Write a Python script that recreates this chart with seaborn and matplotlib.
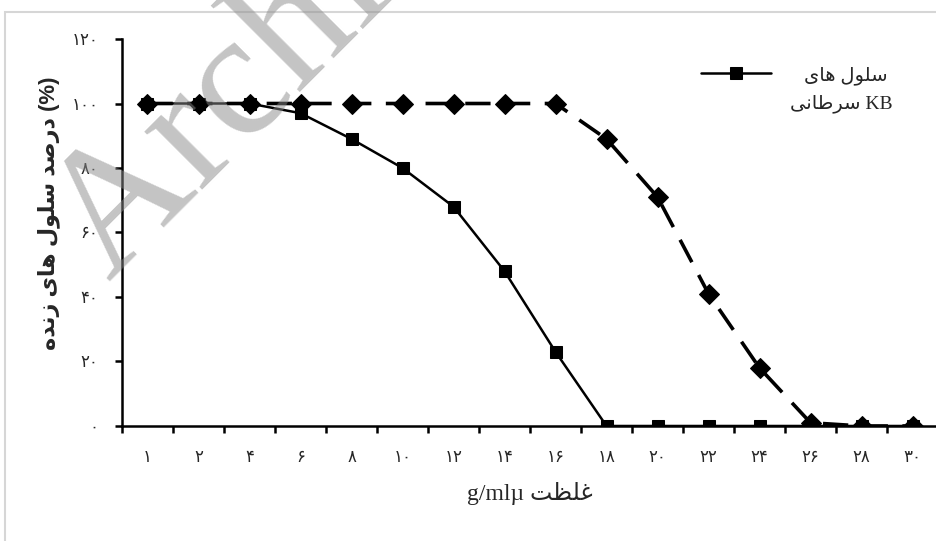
# نمودار درصد سلول های زنده در برابر غلظت
import numpy as np
import pandas as pd
import seaborn as sns
import matplotlib.pyplot as plt
from matplotlib.patches import Rectangle

# داده ها
concentration = [1, 2, 4, 6, 8, 10, 12, 14, 16, 18, 20, 22, 24, 26, 28, 30]
kb_cells = [100, 100, 100, 97, 89, 80, 68, 48, 23, 0, 0, 0, 0, 0, 0, 0]
other_cells = [100, 100, 100, 100, 100, 100, 100, 100, 100, 89, 71, 41, 18, 1, 0, 0]
y_ticks = [0, 20, 40, 60, 80, 100, 120]

legend_line1 = "سلول های"
legend_line2 = "سرطانی"
x_title = "غلظت"
y_title = "درصد سلول های زنده"

# matplotlib does no arabic shaping, so map letters to presentation forms by hand
FORMS = {  # isolated, final, initial, medial
    'ا': ('\uFE8D', '\uFE8E', None, None),
    'د': ('\uFEA9', '\uFEAA', None, None),
    'ر': ('\uFEAD', '\uFEAE', None, None),
    'ز': ('\uFEAF', '\uFEB0', None, None),
    'و': ('\uFEED', '\uFEEE', None, None),
    'ت': ('\uFE95', '\uFE96', '\uFE97', '\uFE98'),
    'س': ('\uFEB1', '\uFEB2', '\uFEB3', '\uFEB4'),
    'ص': ('\uFEB9', '\uFEBA', '\uFEBB', '\uFEBC'),
    'ط': ('\uFEC1', '\uFEC2', '\uFEC3', '\uFEC4'),
    'ظ': ('\uFEC5', '\uFEC6', '\uFEC7', '\uFEC8'),
    'غ': ('\uFECD', '\uFECE', '\uFECF', '\uFED0'),
    'ل': ('\uFEDD', '\uFEDE', '\uFEDF', '\uFEE0'),
    'ن': ('\uFEE5', '\uFEE6', '\uFEE7', '\uFEE8'),
    'ه': ('\uFEE9', '\uFEEA', '\uFEEB', '\uFEEC'),
    'ی': ('\uFEEF', '\uFEF0', '\uFEF3', '\uFEF4'),
}


def rtl(text):
    out = []
    for i, ch in enumerate(text):
        if ch not in FORMS:
            out.append(ch)
            continue
        iso, fin, ini, med = FORMS[ch]
        prev = text[i - 1] if i > 0 else ''
        nxt = text[i + 1] if i + 1 < len(text) else ''
        join_prev = prev in FORMS and FORMS[prev][2] is not None
        join_next = ini is not None and nxt in FORMS
        if join_prev and join_next:
            out.append(med)
        elif join_prev:
            out.append(fin)
        elif join_next:
            out.append(ini)
        else:
            out.append(iso)
    return ''.join(out)[::-1]


fa_digits = str.maketrans('0123456789', '۰۱۲۳۴۵۶۷۸۹')

df = pd.DataFrame({
    "pos": np.arange(len(concentration)),
    "kb": kb_cells,
    "other": other_cells,
})

sns.set_style("white")
plt.rcParams['font.family'] = ['Liberation Serif', 'DejaVu Sans']

fig = plt.figure(figsize=(9.37, 5.41), dpi=100)
ax = fig.add_axes([0.1302, 0.2126, 0.8709, 0.7153])

sns.lineplot(data=df, x="pos", y="kb", color="black", linewidth=1.8,
             marker="s", markersize=8.5, markeredgecolor="black",
             label=rtl(legend_line1), ax=ax)
sns.lineplot(data=df, x="pos", y="other", color="black", linewidth=2.6,
             linestyle=(0, (7, 4)), marker="D", markersize=10,
             markeredgecolor="black", label="_nolegend_", ax=ax)

ax.set_xlim(-0.5, len(concentration) - 0.5)
ax.set_ylim(0, 120)

# ticks on category edges, labels in the middle
ax.set_xticks(np.arange(len(concentration) + 1) - 0.5)
ax.set_xticklabels([])
ax.set_xticks(df["pos"], minor=True)
ax.set_xticklabels([str(c).translate(fa_digits) for c in concentration], minor=True,
                   fontsize=12)
ax.tick_params(axis="x", which="major", direction="out", length=5, width=1.8,
               color="black", bottom=True)
ax.tick_params(axis="x", which="minor", length=0, pad=17)

ax.set_yticks(y_ticks)
ax.set_yticklabels([str(v).translate(fa_digits) for v in y_ticks], fontsize=12)
ax.tick_params(axis="y", direction="out", length=5, width=1.8, color="black",
               left=True, pad=12)

for side in ["top", "right"]:
    ax.spines[side].set_visible(False)
for side in ["left", "bottom"]:
    ax.spines[side].set_linewidth(1.8)
    ax.spines[side].set_color("black")

ax.set_xlabel("g/mlµ " + rtl(x_title), fontsize=17, labelpad=12)
ax.set_ylabel(rtl(y_title) + " (%)", fontsize=16, fontweight="bold",
              family=['Liberation Sans', 'DejaVu Sans'], labelpad=8)
ax.yaxis.label.set_y(0.55)

# legend: first line beside the handle, second line right-aligned under it
leg = ax.legend(loc="center right", bbox_to_anchor=(0.958, 0.861),
                bbox_transform=fig.transFigure, frameon=False, borderpad=0,
                fontsize=14, handlelength=3.6, handletextpad=1.7)
fig.text(0.953, 0.808, rtl(legend_line2) + " KB", ha="right", va="center",
         fontsize=14)

# light frame around the picture
fig.add_artist(Rectangle((0.0053, -0.05), 1.1, 0.978 + 0.05, transform=fig.transFigure,
                         fill=False, edgecolor="#d6d6d6", linewidth=1.5))

# watermark
fig.text(0.1174, 0.4769, "Archive of SID", rotation=45, rotation_mode="anchor",
         ha="left", va="baseline", fontsize=128, family="Liberation Serif",
         color="#8a8a8a", alpha=0.5, zorder=10)

fig.savefig("out.png", dpi=100)
